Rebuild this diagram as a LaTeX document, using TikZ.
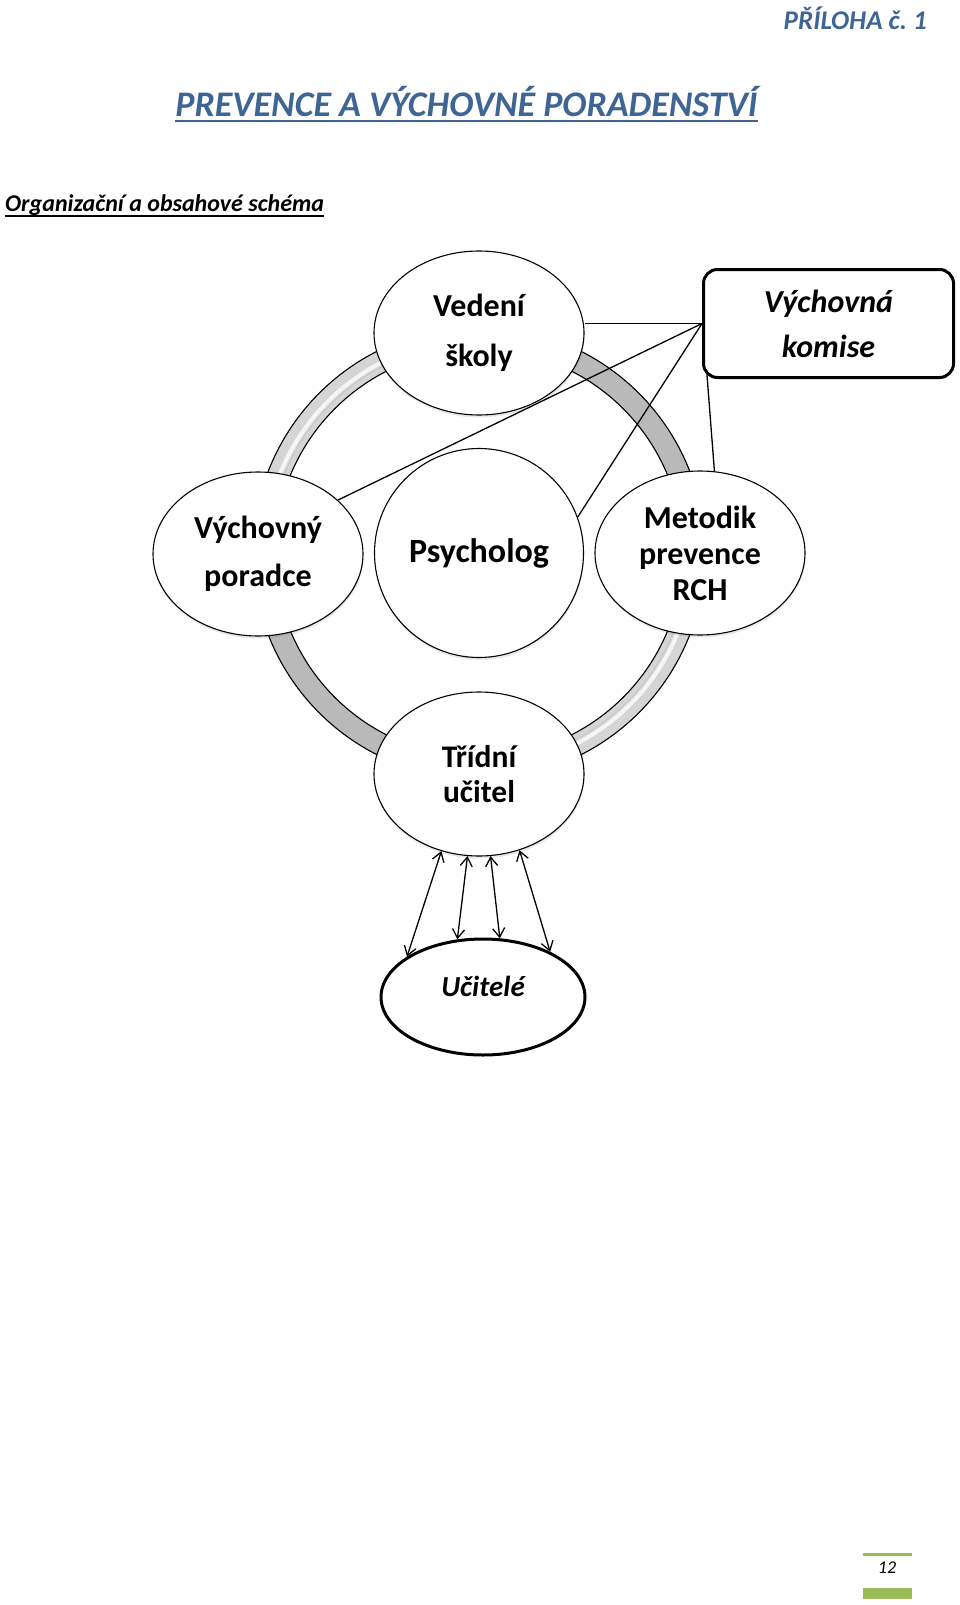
\documentclass[tikz,border=0pt]{standalone}
\usepackage{fontspec}
\setmainfont{Carlito}
\usetikzlibrary{shapes.geometric,arrows.meta,shadows,calc}
\definecolor{titleblue}{HTML}{3F6594}
\definecolor{pagegreen}{HTML}{9BBB59}
\begin{document}
\begin{tikzpicture}[x=1pt,y=-1pt,
  bub/.style={ellipse,draw=black,line width=1.1pt,fill=white,minimum width=210pt,minimum height=164pt,inner sep=0pt,align=center,font=\bfseries\fontsize{32}{50}\selectfont,drop shadow={opacity=0.18,shadow xshift=0.5pt,shadow yshift=-2.5pt}},
  link/.style={line width=1.3pt,black},
  twoway/.style={line width=1.3pt,{Straight Barb[length=9pt,width=12pt]}-{Straight Barb[length=9pt,width=12pt]}}]
\useasboundingbox (0,0) rectangle (960,1605);
\fill[white] (0,0) rectangle (960,1605);

% headings
\node[anchor=base east,inner sep=0pt,text=titleblue,font=\bfseries\itshape\fontsize{27}{32}\selectfont] (priloha) at (927,30) {PŘÍLOHA č.~1};
\node[anchor=base,inner sep=0pt,text=titleblue,font=\bfseries\itshape\fontsize{36}{43}\selectfont] (title) at (466.5,117) {PREVENCE A VÝCHOVNÉ PORADENSTVÍ};
\draw[titleblue,line width=2pt] ([yshift=-4.5pt]title.base west) -- ([yshift=-4.5pt]title.base east);
\node[anchor=base west,inner sep=0pt,font=\bfseries\itshape\fontsize{24}{29}\selectfont] (sub) at (5,212) {Organizační a obsahové schéma};
\draw[black,line width=1.5pt] ([yshift=-4pt]sub.base west) -- ([yshift=-4pt]sub.base east);

% ring
\coordinate (rc) at (479,553);
\fill[gray!55,even odd rule] (rc) circle[radius=226pt] (rc) circle[radius=204pt];
\begin{scope}
  \clip (479,553) rectangle (240,310);
  \fill[gray!33,even odd rule] (rc) circle[radius=226pt] (rc) circle[radius=204pt];
  \draw[gray!8,line width=4pt] (rc) circle[radius=214pt];
  \draw[gray!45,line width=0.8pt] (rc) circle[radius=210pt];
\end{scope}
\begin{scope}
  \clip (479,553) rectangle (720,796);
  \fill[gray!33,even odd rule] (rc) circle[radius=226pt] (rc) circle[radius=204pt];
  \draw[gray!8,line width=4pt] (rc) circle[radius=214pt];
  \draw[gray!45,line width=0.8pt] (rc) circle[radius=210pt];
\end{scope}
\draw[line width=1.1pt] (rc) circle[radius=226pt] (rc) circle[radius=204pt];

% bubbles
\node[bub] (vedeni) at (479,333) {Vedení\\školy};
\node[bub,font=\bfseries\fontsize{32}{48}\selectfont] (poradce) at (258,554) {Výchovný\\poradce};
\node[bub,minimum width=209pt,minimum height=209pt,font=\bfseries\fontsize{34}{40}\selectfont] (psych) at (479,553) {Psycholog};
\node[bub,font=\bfseries\fontsize{32}{36}\selectfont] (metodik) at (700,553) {Metodik\\prevence\\RCH};
\node[bub,font=\bfseries\fontsize{31.5}{35.5}\selectfont] (tridni) at (479,774) {Třídní\\učitel};

\node[draw,line width=3pt,rounded corners=14pt,minimum width=250pt,minimum height=108pt,fill=white,align=center,font=\bfseries\itshape\fontsize{32}{45}\selectfont] (komise) at (828.5,323.5) {Výchovná\\komise};

\node[ellipse,draw,line width=3pt,minimum width=204pt,minimum height=116pt,inner sep=0pt,fill=white] (ucitele) at (483,997) {};
\node[font=\bfseries\itshape\fontsize{29}{35}\selectfont] (ucitelelbl) at (483,986) {Učitelé};

% connectors
\draw[link] (komise.west) -- (komise.west -| vedeni.east);
\draw[link] (komise.west) -- (poradce.34);
\draw[link] (komise.west) -- (psych.20);
\draw[link] ([xshift=5pt,yshift=4pt]komise.south west) -- (metodik.80);

\draw[twoway] (tridni.244) -- (ucitele.152);
\draw[twoway] (tridni.262) -- (ucitele.114);
\draw[twoway] (tridni.278) -- (ucitele.74);
\draw[twoway] (tridni.298) -- (ucitele.34);

% page number
\fill[pagegreen] (863,1552.5) rectangle (912,1555.5);
\fill[pagegreen] (863,1588) rectangle (912,1599);
\node[font=\itshape\fontsize{18}{22}\selectfont] (pagenum) at (887,1568) {12};
\end{tikzpicture}
\end{document}
